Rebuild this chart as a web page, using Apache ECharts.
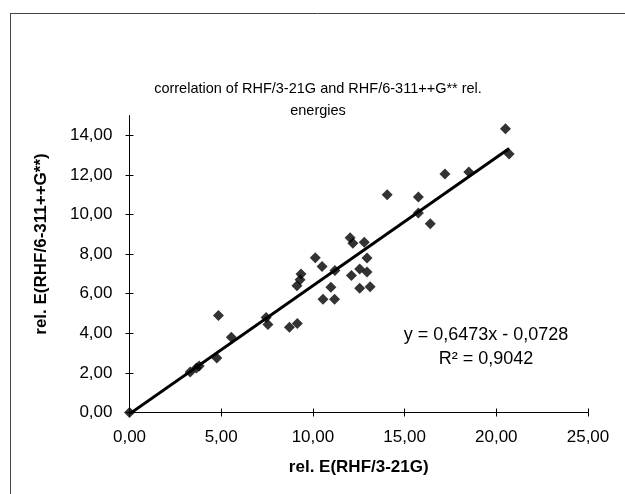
<!DOCTYPE html>
<html>
<head>
<meta charset="utf-8">
<script src="https://cdn.jsdelivr.net/npm/echarts@6/dist/echarts.min.js"></script>
<style>
  html, body { margin: 0; padding: 0; background: #fff; }
  #chart { width: 625px; height: 494px; }
</style>
</head>
<body>
<div id="chart"></div>
<script>
// rel. E(RHF/3-21G) values
var xValues = [0.00, 3.31, 3.65, 3.80, 4.76, 4.85, 5.55, 7.45, 7.55, 8.72,
               9.15, 9.13, 9.30, 9.35, 10.13, 10.50, 10.55, 10.98, 11.18, 11.20,
               12.03, 12.18, 12.10, 12.55, 12.55, 12.80, 12.95, 12.95, 13.12, 14.05,
               15.75, 15.75, 16.40, 17.20, 18.50, 20.50, 20.70];
// rel. E(RHF/6-311++G**) values
var yValues = [0.00, 2.05, 2.25, 2.35, 2.75, 4.90, 3.80, 4.80, 4.45, 4.30,
               4.50, 6.40, 6.70, 7.00, 7.81, 7.38, 5.72, 6.33, 5.72, 7.17,
               8.83, 8.55, 6.92, 7.25, 6.28, 8.60, 7.80, 7.10, 6.35, 11.00,
               10.88, 10.08, 9.53, 12.05, 12.15, 14.33, 13.06];
// linear trendline end points (y = 0,6473x - 0,0728)
var trendX = [0.00, 20.70];
var trendY = [-0.07, 13.33];
var xTicks = [0, 5, 10, 15, 20, 25];
var yTicks = [0, 2, 4, 6, 8, 10, 12, 14];

var points = xValues.map(function (x, i) { return [x, yValues[i]]; });
var trend = trendX.map(function (x, i) { return [x, trendY[i]]; });

function fmt(v) { return v.toFixed(2).replace('.', ','); }

var font = 'Liberation Sans, Arial, sans-serif';
var myChart = echarts.init(document.getElementById('chart'));

var option = {
  backgroundColor: '#fff',
  animation: false,
  title: {
    text: 'correlation of RHF/3-21G and RHF/6-311++G** rel.\nenergies',
    left: 313,
    top: 73,
    textAlign: 'center',
    textStyle: { color: '#000', fontSize: 14.5, fontWeight: 'normal', fontFamily: font, lineHeight: 22 }
  },
  grid: { left: 129.5, right: 37, top: 115.5, height: 297 },
  xAxis: [
    {
      type: 'value', min: 0, max: 25, interval: 5,
      axisLine: { lineStyle: { color: '#000', width: 1 } },
      axisTick: { show: true, length: 4, customValues: xTicks, lineStyle: { color: '#000' } },
      axisLabel: { customValues: xTicks, margin: 16, color: '#000', fontSize: 17, fontFamily: font, formatter: fmt },
      splitLine: { show: false },
      name: 'rel. E(RHF/3-21G)',
      nameLocation: 'middle',
      nameGap: 46,
      nameTextStyle: { color: '#000', fontSize: 17, fontWeight: 'bold', fontFamily: font }
    },
    {
      type: 'value', min: 0, max: 25, interval: 5, position: 'bottom',
      axisLine: { show: false },
      axisTick: { show: true, inside: true, length: 4, customValues: xTicks, lineStyle: { color: '#000' } },
      axisLabel: { show: false },
      splitLine: { show: false }
    }
  ],
  yAxis: [
    {
      type: 'value', min: 0, max: 15,
      axisLine: { show: true, lineStyle: { color: '#000', width: 1 } },
      axisTick: { show: true, length: 4, customValues: yTicks, lineStyle: { color: '#000' } },
      axisLabel: { customValues: yTicks, margin: 17, color: '#000', fontSize: 17, fontFamily: font, formatter: fmt },
      splitLine: { show: false }
    },
    {
      type: 'value', min: 0, max: 15, position: 'left',
      axisLine: { show: false },
      axisTick: { show: true, inside: true, length: 4, customValues: yTicks, lineStyle: { color: '#000' } },
      axisLabel: { show: false },
      splitLine: { show: false }
    }
  ],
  series: [
    {
      name: 'trend',
      type: 'line',
      data: trend,
      symbol: 'none',
      lineStyle: { color: '#000', width: 3 },
      z: 2
    },
    {
      name: 'rel. E',
      type: 'scatter',
      data: points,
      symbol: 'diamond',
      symbolSize: 11,
      itemStyle: { color: '#000' },
      z: 3
    }
  ],
  graphic: [
    { type: 'line', shape: { x1: 10, y1: 13.5, x2: 625, y2: 13.5 }, style: { stroke: '#444', lineWidth: 1 } },
    { type: 'line', shape: { x1: 10.5, y1: 13, x2: 10.5, y2: 494 }, style: { stroke: '#444', lineWidth: 1 } },
    {
      // y axis title
      type: 'text', x: 41, y: 244, rotation: Math.PI / 2,
      style: { text: 'rel. E(RHF/6-311++G**)', fill: '#000', font: 'bold 17px ' + font, align: 'center', verticalAlign: 'middle' }
    },
    {
      // trendline label
      type: 'text', x: 486, y: 347,
      style: { text: 'y = 0,6473x - 0,0728\nR² = 0,9042', fill: '#000', font: '18px ' + font, lineHeight: 24, align: 'center', verticalAlign: 'middle' }
    }
  ]
};
myChart.setOption(option);
</script>
</body>
</html>
